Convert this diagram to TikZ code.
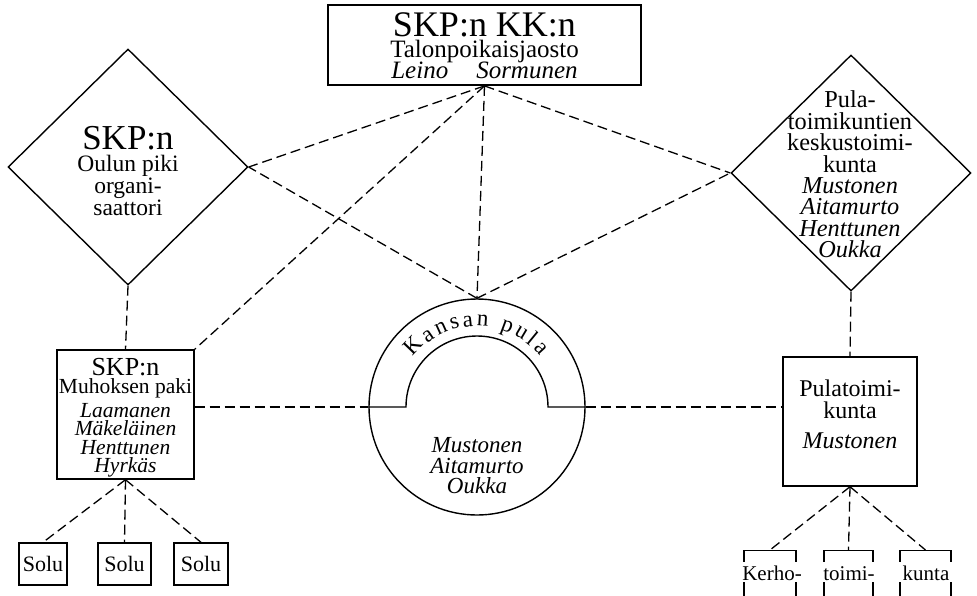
\documentclass[tikz,border=0pt]{standalone}
\usepackage{fontspec}
\setmainfont{Liberation Serif}
\usetikzlibrary{shapes.geometric,decorations.text,calc}
\lineskiplimit=-100pt
\newcommand{\fsz}[2]{\fontsize{#1}{#2}\selectfont}
\begin{document}
\begin{tikzpicture}[x=1pt,y=1pt,
  shapeline/.style={draw, line width=1.4pt},
  box/.style={shapeline, rectangle, inner sep=0pt},
  dia/.style={shapeline, diamond, inner sep=0pt, minimum width=240pt, minimum height=236pt},
  link/.style={line width=1.3pt, dash pattern=on 10pt off 5pt},
  txt/.style={align=center, inner sep=0pt},
  cutbox/.style={box, minimum height=80pt, anchor=north},
  cuttxt/.style={txt, fill=white, font=\fsz{21}{21}, anchor=base, text height=17pt, text depth=1pt, inner ysep=1pt},
]
\useasboundingbox (0,0) rectangle (977,-595);
\clip (0,0) rectangle (977,-595);

% top box
\node[box, line width=1.8pt, minimum width=313pt, minimum height=80pt] (top) at (484.5,-45) {};
\node[txt, font=\fsz{25}{21}] (toptext) at (484.5,-46)
  {{\fsz{36}{21}SKP:n KK:n}\\Talonpoikaisjaosto\\\textit{Leino}\hspace*{28pt}\textit{Sormunen}};

% left diamond
\node[dia] (ld) at (128,-167) {};
\node[txt, font=\fsz{23.5}{22}] (ldtext) at (128,-171.5)
  {{\fsz{35}{22}SKP:n}\\Oulun piki\\organi-\\saattori};

% right diamond
\node[dia] (rd) at (851,-173) {};
\node[txt, font=\fsz{24.3}{21.4}] (rdtext) at (850,-174.5)
  {Pula-\\toimikuntien\\keskustoimi-\\kunta\\\textit{Mustonen}\\\textit{Aitamurto}\\\textit{Henttunen}\\\textit{Oukka}};

% left box
\node[box, minimum width=137pt, minimum height=129pt] (lb) at (125.5,-414.5) {};
\node[txt, font=\fsz{21.5}{18.5}] (lbtext) at (125.5,-417.5)
  {{\fsz{26}{18.5}SKP:n}\\Muhoksen paki\\[5pt]\textit{Laamanen}\\\textit{Mäkeläinen}\\\textit{Henttunen}\\\textit{Hyrkäs}};

% right box
\node[box, minimum width=134pt, minimum height=129pt] (rb) at (850,-421.5) {};
\node[txt, font=\fsz{24}{22}] (rbtext) at (850,-414)
  {Pulatoimi-\\kunta\\[8pt]\textit{Mustonen}};

% circle
\node[draw, circle, line width=1.4pt, minimum size=216pt, inner sep=0pt] (cc) at (477,-407) {};
\draw[line width=1.4pt] (cc.west) -- ([xshift=-71pt]cc.center)
  arc[start angle=180, end angle=0, radius=71pt] -- (cc.east);
\path[decorate, decoration={text along path, text={|\fsz{23}{23}|Kansan pula}, text align={fit to path}}]
  ([shift={(142:81)}]cc.center) arc[start angle=142, end angle=39, radius=81pt];
\node[txt, font=\fsz{23}{20.5}\itshape] (cctext) at (477,-466) {Mustonen\\Aitamurto\\Oukka};

% Solu boxes
\node[box, minimum width=48pt, minimum height=42pt, font=\fsz{22}{22}] (s1) at (43,-564) {Solu};
\node[box, minimum width=53pt, minimum height=42pt, font=\fsz{22}{22}] (s2) at (124.5,-564) {Solu};
\node[box, minimum width=54pt, minimum height=42pt, font=\fsz{22}{22}] (s3) at (201,-564) {Solu};

% bottom right cut boxes
\node[cutbox, minimum width=52pt] (k1) at (770,-550) {};
\node[cutbox, minimum width=49pt] (k2) at (848.5,-550) {};
\node[cutbox, minimum width=51pt] (k3) at (925.5,-550) {};
\node[cuttxt, minimum width=56pt] (k1t) at (772,-580) {Kerho-};
\node[cuttxt, minimum width=53pt] (k2t) at (849,-580) {toimi-};
\node[cuttxt, minimum width=55pt] (k3t) at (926,-580) {kunta};

% connectors
\draw[link] (top.south) -- (ld.east);
\draw[link] (top.south) -- (lb.north east);
\draw[link] (top.south) -- (cc.north);
\draw[link] (top.south) -- (rd.west);
\draw[link] (cc.north) -- (ld.east);
\draw[link] (cc.north) -- (rd.west);
\draw[link] (ld.south) -- (lb.north);
\draw[link] (rd.south) -- (rb.north);
\draw[link] (lb.east |- cc.west) -- (cc.west);
\draw[link] (cc.east) -- (rb.west |- cc.east);
\draw[link] (lb.south) -- (s1.north);
\draw[link] (lb.south) -- (s2.north);
\draw[link] (lb.south) -- (s3.north);
\draw[link] (rb.south) -- (k1.north);
\draw[link] (rb.south) -- (k2.north);
\draw[link] (rb.south) -- (k3.north);
\end{tikzpicture}
\end{document}
